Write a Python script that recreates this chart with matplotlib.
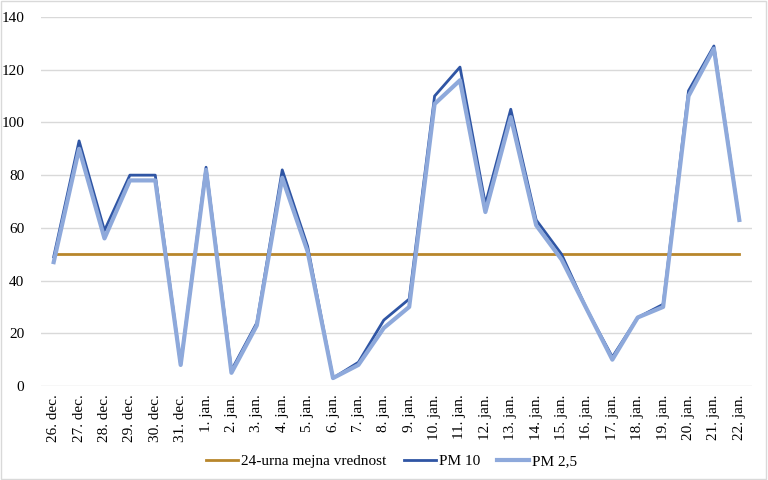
import matplotlib.pyplot as plt
import numpy as np

# Data
days = ['26. dec.', '27. dec.', '28. dec.', '29. dec.', '30. dec.', '31. dec.',
        '1. jan.', '2. jan.', '3. jan.', '4. jan.', '5. jan.', '6. jan.',
        '7. jan.', '8. jan.', '9. jan.', '10. jan.', '11. jan.', '12. jan.',
        '13. jan.', '14. jan.', '15. jan.', '16. jan.', '17. jan.', '18. jan.',
        '19. jan.', '20. jan.', '21. jan.', '22. jan.']
pm10 = [49, 93, 59, 80, 80, 8, 83, 6, 24, 82, 53, 3, 9, 25, 33, 110, 121, 69,
        105, 63, 50, 29, 11, 26, 31, 112, 129, 63]
pm25 = [47, 90, 56, 78, 78, 8, 82, 5, 23, 79, 51, 3, 8, 22, 30, 107, 116, 66,
        102, 61, 48, 29, 10, 26, 30, 110, 128, 63]
limit = [50] * len(days)

plt.rcParams['font.family'] = ['Liberation Serif', 'DejaVu Serif']

fig = plt.figure(figsize=(7.68, 4.8), dpi=100)
ax = fig.add_axes([41 / 768, 1 - 386 / 480, 711 / 768, 369 / 480])
x = np.arange(len(days))

ax.plot(x, limit, color='#B8862B', linewidth=2, label='24-urna mejna vrednost')
ax.plot(x, pm10, color='#2F55A4', linewidth=2, label='PM 10')
ax.plot(x, pm25, color='#8EA9DB', linewidth=3, label='PM 2,5')

ax.set_xlim(-0.5, len(days) - 0.5)
ax.set_ylim(0, 140)
ax.set_yticks(range(0, 141, 20))
ax.set_xticks(x)
ax.set_xticklabels(days, rotation=90, fontsize=11)
ax.tick_params(axis='y', labelsize=11, length=0, pad=12)
ax.tick_params(axis='x', length=0, pad=6)
ax.grid(axis='y', color='#D9D9D9', linewidth=1)
ax.set_axisbelow(True)
for s in ax.spines.values():
    s.set_visible(False)

fig.legend(loc='center', bbox_to_anchor=(0.51, 19 / 480), ncol=3, frameon=False,
           fontsize=11, handlelength=2.1, columnspacing=1.1, handletextpad=0.2)

# light border around the figure
fig.patches.append(plt.Rectangle((0.001, 0.002), 0.997, 0.996, transform=fig.transFigure,
                                 fill=False, edgecolor='#D9D9D9', linewidth=1))

fig.savefig('out.png', dpi=100)
